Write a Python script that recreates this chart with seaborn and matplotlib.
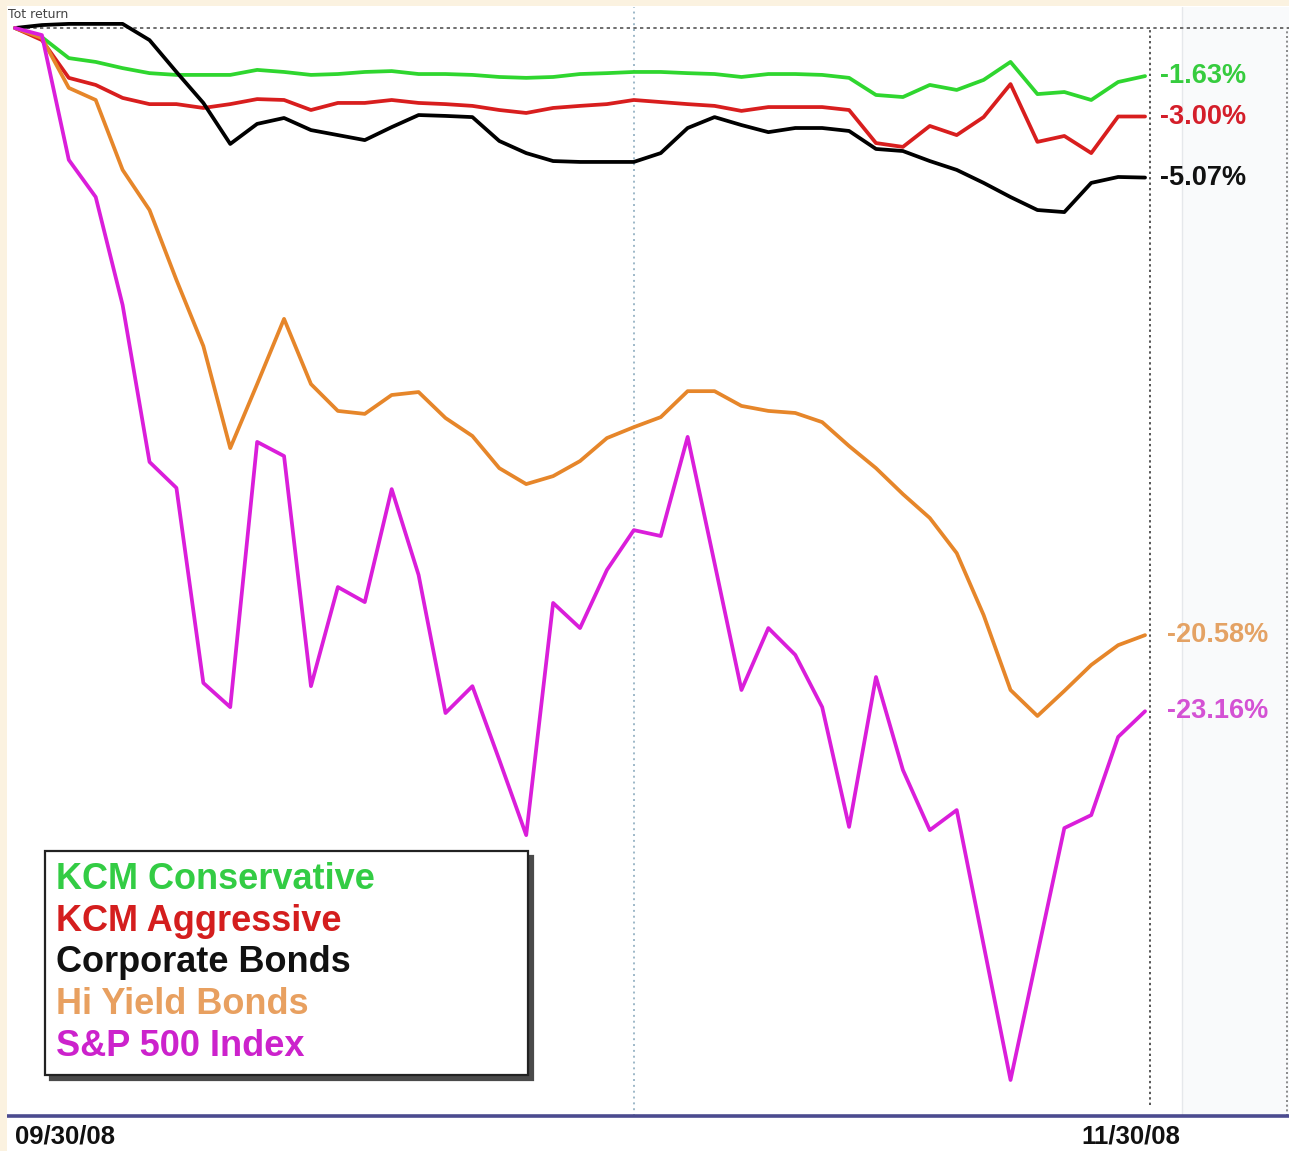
import matplotlib
matplotlib.use("Agg")
import matplotlib.pyplot as plt
import seaborn as sns
import pandas as pd
from matplotlib.patches import Rectangle

# ---------------- data (total return, %) ----------------
day_index = list(range(43))
date_labels = ["09/30/08", "11/30/08"]

kcm_conservative = [0.00, -0.31, -1.02, -1.15, -1.36, -1.53, -1.59, -1.59, -1.59, -1.42,
                    -1.49, -1.59, -1.56, -1.49, -1.46, -1.56, -1.56, -1.59, -1.66, -1.69,
                    -1.66, -1.56, -1.53, -1.49, -1.49, -1.53, -1.56, -1.66, -1.56, -1.56,
                    -1.59, -1.69, -2.27, -2.34, -1.93, -2.10, -1.76, -1.15, -2.24, -2.17,
                    -2.44, -1.83, -1.63]
kcm_aggressive = [0.00, -0.41, -1.69, -1.93, -2.37, -2.58, -2.58, -2.71, -2.58, -2.41,
                  -2.44, -2.78, -2.54, -2.54, -2.44, -2.54, -2.58, -2.64, -2.78, -2.88,
                  -2.71, -2.64, -2.58, -2.44, -2.51, -2.58, -2.64, -2.81, -2.68, -2.68,
                  -2.68, -2.78, -3.90, -4.03, -3.32, -3.63, -3.02, -1.90, -3.86, -3.66,
                  -4.24, -3.00, -3.00]
corporate_bonds = [0.00, 0.10, 0.14, 0.14, 0.14, -0.41, -1.49, -2.54, -3.93, -3.25,
                   -3.05, -3.46, -3.63, -3.80, -3.36, -2.95, -2.98, -3.02, -3.83, -4.24,
                   -4.51, -4.54, -4.54, -4.54, -4.24, -3.39, -3.02, -3.29, -3.53, -3.39,
                   -3.39, -3.49, -4.10, -4.17, -4.51, -4.81, -5.25, -5.73, -6.17, -6.24,
                   -5.25, -5.05, -5.07]
hi_yield_bonds = [0.00, -0.34, -2.03, -2.44, -4.81, -6.17, -8.54, -10.78, -14.24, -12.07,
                  -9.86, -12.07, -12.98, -13.08, -12.44, -12.34, -13.22, -13.83, -14.92, -15.46,
                  -15.19, -14.68, -13.90, -13.53, -13.19, -12.31, -12.31, -12.81, -12.98, -13.05,
                  -13.36, -14.17, -14.92, -15.80, -16.61, -17.80, -19.90, -22.44, -23.32, -22.47,
                  -21.59, -20.92, -20.58]
sp500_index = [0.00, -0.24, -4.47, -5.73, -9.39, -14.71, -15.59, -22.20, -23.02, -14.03,
               -14.51, -22.31, -18.95, -19.46, -15.63, -18.54, -23.22, -22.31, -24.81, -27.36,
               -19.49, -20.34, -18.37, -17.02, -17.22, -13.86, -18.14, -22.44, -20.34, -21.25,
               -23.02, -27.08, -22.00, -25.15, -27.19, -26.51, -31.08, -35.66, -31.39, -27.12,
               -26.68, -24.03, -23.16]

series_names = ["KCM Conservative", "KCM Aggressive", "Corporate Bonds",
                "Hi Yield Bonds", "S&P 500 Index"]
series_values = [kcm_conservative, kcm_aggressive, corporate_bonds,
                 hi_yield_bonds, sp500_index]
end_labels = ["-1.63%", "-3.00%", "-5.07%", "-20.58%", "-23.16%"]

line_colors = ["#2FD62F", "#D81E1E", "#000000", "#E6862A", "#DA1EDA"]
label_colors = ["#36CC3E", "#D41E2A", "#111111", "#E4A264", "#D452D4"]
legend_colors = ["#33CC44", "#D41E1E", "#111111", "#E8A060", "#CC22CC"]
draw_order = [4, 3, 0, 1, 2]

# ---------------- figure ----------------
sns.set_theme(style="white")
plt.rcParams['font.family'] = ['Liberation Sans', 'DejaVu Sans']

W, H = 1289, 1151
fig = plt.figure(figsize=(W / 100, H / 100), dpi=100)
fig.patch.set_facecolor("white")

ax_top, ax_bot = 7, 1116
ax = fig.add_axes([7 / W, 1 - ax_bot / H, (W - 7) / W, (ax_bot - ax_top) / H])
ax.set_facecolor("white")

df = pd.DataFrame({
    "day": day_index * len(series_names),
    "value": sum(series_values, []),
    "series": [n for n in series_names for _ in day_index],
})

for i in draw_order:
    sub = df[df["series"] == series_names[i]]
    sns.lineplot(data=sub, x="day", y="value", color=line_colors[i], lw=2.7,
                 label=series_names[i], ax=ax, legend=False, zorder=5 + i)

# axis ranges (pixel mapping)
ax.set_xlim(-0.297, 47.35)
ax.set_ylim(-36.88, 0.712)
ax.set_xticks([])
ax.set_yticks([])
ax.set_xlabel("")
ax.set_ylabel("")
for s in ["top", "left", "right"]:
    ax.spines[s].set_visible(False)
ax.spines["bottom"].set_color("#4B4B8F")
ax.spines["bottom"].set_linewidth(2.6)

# right grey area
ax.axvspan(43.375, 47.35, color="#F9FAFB", zorder=0, lw=0)
ax.axvline(43.375, color="#E6E8EB", lw=1, zorder=1)

# reference lines
ax.axhline(0, xmin=13 / 1282, color="#555555", ls=(0, (2, 2)), lw=1.2, zorder=2)
ax.axvline(23, color="#9DB8C8", ls=(0, (1, 2)), lw=1.4, zorder=2)
ax.axvline(42.19, ymin=0.01, ymax=0.979, color="#555555", ls=(0, (1.2, 1.6)), lw=1.4, zorder=2)
ax.axvline(47.28, ymin=0.0, ymax=0.979, color="#777777", ls=(0, (1.2, 1.6)), lw=1.2, zorder=2)

# end labels
label_x = [42.55, 42.55, 42.55, 42.8, 42.8]
for i in range(len(series_names)):
    ax.text(label_x[i], series_values[i][-1], end_labels[i], color=label_colors[i],
            fontsize=19.5, fontweight="bold", va="center", ha="left", zorder=20)

# legend
handles, labels = ax.get_legend_handles_labels()
hmap = dict(zip(labels, handles))
leg = ax.legend([hmap[n] for n in series_names], series_names,
                loc="lower left", bbox_to_anchor=(45 / W, 1 - 1075 / H, 483 / W, 0.1),
                bbox_transform=fig.transFigure, mode="expand",
                handlelength=0, handletextpad=0, labelcolor=legend_colors,
                prop={"family": "Liberation Sans", "weight": "bold", "size": 26},
                frameon=True, fancybox=False, edgecolor="#222222", framealpha=1,
                shadow={"color": "#4A4A4A", "alpha": 1, "ox": 3.5, "oy": -3.5},
                labelspacing=0.19, borderpad=0.3, borderaxespad=0)
leg.get_frame().set_linewidth(1.6)
for h in leg.legend_handles:
    h.set_visible(False)
leg.set_zorder(30)

# date labels and caption
fig.text(15 / W, 1 - 1137 / H, date_labels[0], fontsize=18.5, fontweight="bold",
         color="#111111", ha="left", va="center")
fig.text(1180 / W, 1 - 1137 / H, date_labels[1], fontsize=18.5, fontweight="bold",
         color="#111111", ha="right", va="center")
fig.text(8 / W, 1 - 15 / H, "Tot return", fontsize=9, color="#444444",
         ha="left", va="center", family="DejaVu Sans")

# cream frame strips
cream = "#FBF2E0"
fig.patches.append(Rectangle((0, 1 - 6 / H), 1, 6 / H, transform=fig.transFigure,
                             facecolor=cream, edgecolor="none", zorder=0))
fig.patches.append(Rectangle((0, 0), 7 / W, 1, transform=fig.transFigure,
                             facecolor=cream, edgecolor="none", zorder=0))

fig.savefig("out.png", dpi=100, facecolor=fig.get_facecolor())
